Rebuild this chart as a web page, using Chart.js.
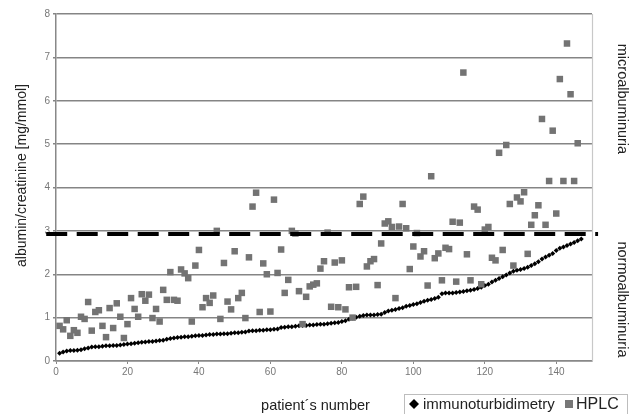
<!DOCTYPE html>
<html>
<head>
<meta charset="utf-8">
<script src="https://cdn.jsdelivr.net/npm/chart.js@4.4.0/dist/chart.umd.min.js"></script>
<style>
html,body{margin:0;padding:0;background:#fff;}
#wrap{position:relative;width:634px;height:414px;}
</style>
</head>
<body>
<div id="wrap"><canvas id="c" width="634" height="414"></canvas></div>
<script>
const patients = [1,2,3,4,5,6,7,8,9,10,11,12,13,14,15,16,17,18,19,20,21,22,23,24,25,26,27,28,29,30,31,32,33,34,35,36,37,38,39,40,41,42,43,44,45,46,47,48,49,50,51,52,53,54,55,56,57,58,59,60,61,62,63,64,65,66,67,68,69,70,71,72,73,74,75,76,77,78,79,80,81,82,83,84,85,86,87,88,89,90,91,92,93,94,95,96,97,98,99,100,101,102,103,104,105,106,107,108,109,110,111,112,113,114,115,116,117,118,119,120,121,122,123,124,125,126,127,128,129,130,131,132,133,134,135,136,137,138,139,140,141,142,143,144,145,146,147];

const immuno = [0.18,0.21,0.23,0.24,0.24,0.25,0.26,0.28,0.30,0.32,
0.33,0.33,0.34,0.35,0.35,0.36,0.36,0.37,0.38,0.39,
0.40,0.41,0.42,0.43,0.44,0.45,0.45,0.46,0.47,0.48,
0.50,0.52,0.53,0.54,0.55,0.56,0.56,0.57,0.58,0.59,
0.59,0.60,0.61,0.61,0.62,0.62,0.63,0.63,0.64,0.65,
0.65,0.66,0.67,0.69,0.70,0.70,0.71,0.71,0.72,0.72,
0.73,0.74,0.77,0.78,0.79,0.79,0.80,0.81,0.82,0.82,
0.83,0.83,0.84,0.85,0.85,0.86,0.87,0.88,0.89,0.91,
0.93,0.96,0.99,1.01,1.03,1.05,1.06,1.06,1.06,1.07,
1.08,1.12,1.15,1.17,1.19,1.21,1.23,1.26,1.28,1.30,
1.32,1.35,1.38,1.40,1.42,1.44,1.47,1.55,1.57,1.57,
1.57,1.58,1.59,1.60,1.62,1.63,1.65,1.67,1.70,1.74,
1.77,1.82,1.86,1.90,1.94,1.98,2.03,2.07,2.09,2.11,
2.13,2.16,2.20,2.24,2.29,2.35,2.40,2.44,2.48,2.55,
2.60,2.63,2.66,2.70,2.73,2.77,2.81];

const hplc = [0.81,0.73,0.94,0.58,0.71,0.65,1.02,0.97,1.36,0.70,
1.13,1.17,0.81,0.55,1.22,0.76,1.33,1.02,0.53,0.85,
1.45,1.20,1.02,1.54,1.39,1.53,0.99,1.20,0.91,1.64,
1.41,2.05,1.41,1.39,2.11,2.02,1.91,0.91,2.20,2.56,
1.24,1.45,1.34,1.51,3.00,0.97,2.26,1.37,1.19,2.53,
1.45,1.57,0.99,2.39,3.56,3.88,1.13,2.25,2.00,1.14,
3.72,2.03,2.57,1.57,1.87,3.00,2.94,1.61,0.85,1.48,
1.72,1.76,1.79,2.13,2.30,2.96,1.25,2.27,1.24,2.32,
1.19,1.70,1.00,1.71,3.62,3.79,2.18,2.30,2.35,1.75,
2.71,3.17,3.22,3.09,1.45,3.10,3.62,3.06,2.12,2.64,
2.95,2.41,2.53,1.74,4.26,2.37,2.48,1.86,2.61,2.58,
3.21,1.83,3.19,6.65,2.46,1.86,3.56,3.49,1.77,3.03,
3.09,2.38,2.32,4.80,2.56,4.98,3.62,2.20,3.77,3.68,
3.89,2.47,3.14,3.36,3.59,5.58,3.14,4.15,5.31,3.40,
6.50,4.15,7.32,6.15,4.15,5.02,null];

const threshold = 2.93;
const xTicks = [0,20,40,60,80,100,120,140];
const yTicks = [0,1,2,3,4,5,6,7,8];
const seriesNames = ['immunoturbidimetry','HPLC'];
const xTitle = 'patient\u00b4s number';
const yTitle = 'albumin/creatinine [mg/mmol]';
const zoneLabels = ['microalbuminuria','normoalbuminuria'];

const FONT = '"Liberation Sans", Arial, sans-serif';

const extras = {
  id: 'extras',
  afterDraw(chart) {
    const ctx = chart.ctx;
    const ca = chart.chartArea;
    const ys = chart.scales.y;
    ctx.save();
    // right border
    ctx.strokeStyle = '#c8c8c8';
    ctx.lineWidth = 1.2;
    ctx.beginPath();
    ctx.moveTo(ca.right + 0.5, ca.top);
    ctx.lineTo(ca.right + 0.5, ca.bottom);
    ctx.stroke();

    ctx.fillStyle = '#222';
    ctx.textAlign = 'center';
    ctx.textBaseline = 'middle';
    // y title
    ctx.save();
    ctx.translate(22, (ca.top + ca.bottom) / 2 - 12);
    ctx.rotate(-Math.PI / 2);
    ctx.font = '14px ' + FONT;
    ctx.fillText(yTitle, 0, 0);
    ctx.restore();
    // zone labels
    const midMicro = (ys.getPixelForValue(8) + ys.getPixelForValue(threshold)) / 2 - 25;
    const midNormo = (ys.getPixelForValue(threshold) + ys.getPixelForValue(0)) / 2 + 2;
    [[zoneLabels[0], midMicro], [zoneLabels[1], midNormo]].forEach(([t, y]) => {
      ctx.save();
      ctx.translate(621.5, y);
      ctx.rotate(Math.PI / 2);
      ctx.font = '14.5px ' + FONT;
      ctx.fillText(t, 0, 0);
      ctx.restore();
    });
    // x title
    ctx.font = '14.5px ' + FONT;
    ctx.fillText(xTitle, 315.5, 406);

    // legend
    ctx.strokeStyle = '#bdbdbd';
    ctx.lineWidth = 1;
    ctx.strokeRect(404.5, 394.5, 223, 26);
    ctx.fillStyle = '#000';
    ctx.beginPath();
    ctx.moveTo(414, 399); ctx.lineTo(419, 404); ctx.lineTo(414, 409); ctx.lineTo(409, 404);
    ctx.closePath(); ctx.fill();
    ctx.fillStyle = '#222';
    ctx.textAlign = 'left';
    ctx.font = '15px ' + FONT;
    ctx.fillText(seriesNames[0], 423, 404.5);
    ctx.fillStyle = '#777';
    ctx.fillRect(565, 400, 8, 8);
    ctx.fillStyle = '#222';
    ctx.font = '16px ' + FONT;
    ctx.fillText(seriesNames[1], 576, 404.5);
    ctx.restore();
  }
};

new Chart(document.getElementById('c'), {
  type: 'scatter',
  data: {
    datasets: [
      {
        label: 'threshold',
        type: 'line',
        data: [{x: -2.74, y: threshold}, {x: 151.7, y: threshold}],
        borderColor: '#000',
        borderWidth: 4,
        borderDash: [21, 9.5],
        pointRadius: 0,
        clip: false,
        order: 0
      },
      {
        label: seriesNames[1],
        data: patients.map((p, i) => ({x: p, y: hplc[i]})),
        pointStyle: 'rect',
        pointRadius: 4.6,
        pointHoverRadius: 4.6,
        backgroundColor: '#737373',
        borderColor: '#737373',
        borderWidth: 0,
        order: 1
      },
      {
        label: seriesNames[0],
        data: patients.map((p, i) => ({x: p, y: immuno[i]})),
        pointStyle: 'rectRot',
        pointRadius: 2.5,
        pointHoverRadius: 2.5,
        backgroundColor: '#000',
        borderColor: '#000',
        borderWidth: 0,
        order: 2
      }
    ]
  },
  options: {
    responsive: false,
    animation: false,
    events: [],
    layout: {padding: {left: 0, right: 42, top: 14, bottom: 0}},
    plugins: {legend: {display: false}, tooltip: {enabled: false}},
    scales: {
      x: {
        type: 'linear',
        min: 0, max: 150,
        afterBuildTicks: s => { s.ticks = xTicks.map(v => ({value: v})); },
        afterFit: s => { s.height = 53; },
        ticks: {color: '#777', font: {family: FONT, size: 10}, padding: 2, maxRotation: 0},
        grid: {drawOnChartArea: false, drawTicks: true, tickLength: 3, color: '#888', lineWidth: 1},
        border: {display: true, color: '#888', width: 1.5}
      },
      y: {
        min: 0, max: 8,
        afterBuildTicks: s => { s.ticks = yTicks.map(v => ({value: v})); },
        afterFit: s => { s.width = 56; },
        ticks: {color: '#777', font: {family: FONT, size: 10}, padding: 3},
        grid: {color: '#858585', lineWidth: 1.4, drawTicks: true, tickLength: 3},
        border: {display: true, color: '#888', width: 1.5}
      }
    }
  },
  plugins: [extras]
});
</script>
</body>
</html>
